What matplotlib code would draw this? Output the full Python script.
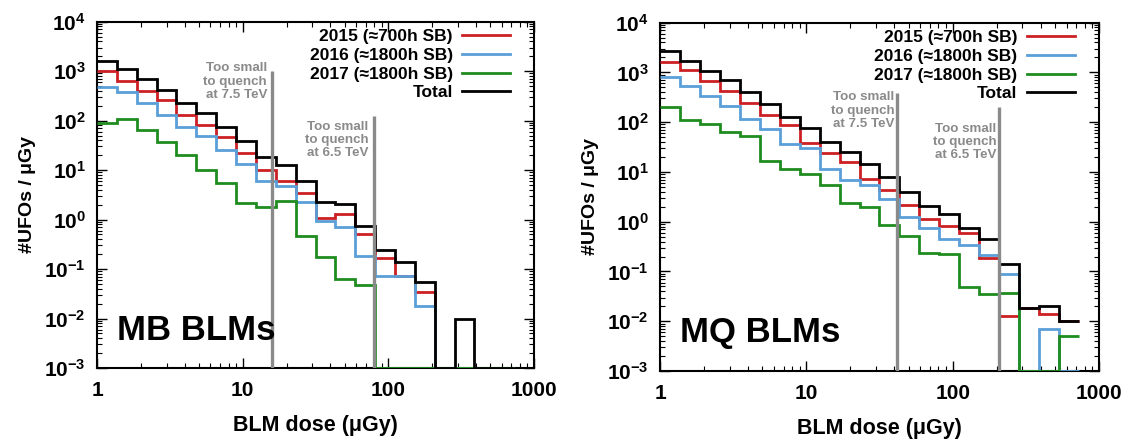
import numpy as np
import matplotlib
matplotlib.use('Agg')
import matplotlib.pyplot as plt
from matplotlib.ticker import FuncFormatter, LogLocator, NullFormatter

plt.rcParams['font.family'] = ['Liberation Sans', 'DejaVu Sans']
plt.rcParams['font.weight'] = 'bold'
plt.rcParams['mathtext.fontset'] = 'custom'
plt.rcParams['mathtext.rm'] = 'Liberation Sans:bold'
plt.rcParams['mathtext.bf'] = 'Liberation Sans:bold'

# 21 logarithmic dose bins from 1 to ~730 uGy
bin_edges = [1, 1.369, 1.874, 2.565, 3.511, 4.806, 6.579, 9.006, 12.33, 16.88, 23.10,
             31.62, 43.29, 59.26, 81.11, 111.0, 152.0, 208.1, 284.8, 389.9, 533.8, 730.7]

labels = ['2015 (≈700h SB)', '2016 (≈1800h SB)', '2017 (≈1800h SB)', 'Total']
colors = ['#cc1f24', '#5a9fd8', '#1f8c1f', 'black']

# MB BLMs (#UFOs / uGy), 0 = empty bin
mb_2015 = [1020, 632, 397, 262, 130, 80, 46, 22.5, 10.0, 5.9, 3.4, 1.1, 1.28, 0.51,
           0.168, 0.071, 0.035, 0, 0, 0, 0]
mb_2016 = [486, 370, 228, 128, 76, 48, 26, 13, 6.0, 4.7, 2.25, 0.94, 0.70, 0.185,
           0.071, 0.071, 0.018, 0, 0, 0, 0]
mb_2017 = [88, 106, 65, 37, 20.5, 10, 5.5, 2.2, 1.82, 2.39, 0.47, 0.175, 0.063, 0.047,
           0, 0, 0, 0, 0, 0, 0]
mb_total = [1600, 1100, 680, 416, 230, 140, 75, 38, 18.5, 12.8, 5.9, 2.25, 2.05, 0.73,
            0.245, 0.142, 0.054, 0, 0.0098, 0, 0]

# MQ BLMs
mq_2015 = [1650, 1100, 673, 430, 245, 140, 86, 38.7, 24, 15.8, 7.1, 4.3, 2.17, 1.12,
           0.81, 0.58, 0.19, 0.0127, 0.0187, 0.0138, 0.0099]
mq_2016 = [809, 533, 341, 211, 118, 72, 37, 29.7, 11.7, 6.9, 5.5, 2.82, 1.22, 0.74,
           0.44, 0.34, 0.214, 0.089, 0, 0.0069, 0]
mq_2017 = [202, 111, 92, 63.5, 52.7, 16.6, 11.3, 9.1, 5.5, 2.4, 1.97, 0.84, 0.52, 0.235,
           0.222, 0.048, 0.036, 0.0375, 0, 0, 0.0051]
mq_total = [2700, 1722, 1080, 700, 405, 230, 130, 77, 40.6, 24.8, 14.7, 7.9, 3.9, 2.07,
            1.42, 0.76, 0.44, 0.141, 0.0187, 0.0205, 0.0099]

# quench thresholds: (dose, top of line)
mb_limits = [(16, 1020), (80, 124)]
mq_limits = [(41.5, 392), (208, 199)]

YMIN, YMAX = 1e-3, 1e4
GREY = '#8a8a8a'

fig = plt.figure(figsize=(11.36, 4.41), dpi=100)

panels = [
    dict(rect=[0.0854, 0.1655, 0.3847, 0.7854], series=[mb_2015, mb_2016, mb_2017, mb_total],
         limits=mb_limits, name='MB BLMs',
         notes=[(14.7, 1500), (73.2, 100)]),
    dict(rect=[0.5810, 0.1587, 0.3864, 0.7899], series=[mq_2015, mq_2016, mq_2017, mq_total],
         limits=mq_limits, name='MQ BLMs',
         notes=[(40.0, 415), (200, 98)]),
]

for p in panels:
    ax = fig.add_axes(p['rect'])
    for vals, lab, col in zip(p['series'], labels, colors):
        v = np.array(vals, dtype=float)
        v = np.where(v > 0, v, YMIN)
        ax.stairs(v, bin_edges, baseline=None, color=col, lw=2.0, label=lab, zorder=3)

    for (xl, top), (xt, yt), tev in zip(p['limits'], p['notes'], ['7.5', '6.5']):
        ax.vlines(xl, YMIN, top, color=GREY, lw=2.4, zorder=4)
        ax.text(xt, yt, 'Too small\nto quench\nat %s TeV' % tev, ha='right', va='top',
                color=GREY, fontsize=9.6, linespacing=1.15, zorder=5)

    ax.set_xscale('log')
    ax.set_yscale('log')
    ax.set_xlim(1, 1000)
    ax.set_ylim(YMIN, YMAX)

    ax.xaxis.set_major_locator(LogLocator(base=10, numticks=10))
    ax.yaxis.set_major_locator(LogLocator(base=10, numticks=10))
    ax.xaxis.set_minor_locator(LogLocator(base=10, subs=np.arange(2, 10), numticks=20))
    ax.yaxis.set_minor_locator(LogLocator(base=10, subs=np.arange(2, 10), numticks=20))
    ax.xaxis.set_minor_formatter(NullFormatter())
    ax.yaxis.set_minor_formatter(NullFormatter())
    ax.xaxis.set_major_formatter(FuncFormatter(lambda v, pos: '%d' % round(v)))
    ax.yaxis.set_major_formatter(FuncFormatter(
        lambda v, pos: r'$\mathbf{10^{%d}}$' % round(np.log10(v))))

    ax.tick_params(which='both', direction='in', top=True, right=True, labelsize=15)
    ax.tick_params(which='major', length=7, width=1.0)
    ax.tick_params(which='minor', length=3.5, width=0.8)
    ax.tick_params(axis='x', pad=9)
    ax.tick_params(axis='y', pad=8)
    for s in ax.spines.values():
        s.set_linewidth(1.5)

    ax.set_xlabel('BLM dose (μGy)', fontsize=15.5, fontweight='bold', labelpad=11)
    ax.set_ylabel('#UFOs / μGy', fontsize=14, fontweight='bold', labelpad=6)

    ax.text(0.046, 0.082, p['name'], transform=ax.transAxes, fontsize=25,
            fontweight='bold', va='baseline', ha='left', zorder=6)

    ax.legend(loc='upper right', bbox_to_anchor=(0.945, 0.978), frameon=False,
              markerfirst=False, fontsize=12.5, handlelength=2.75, handletextpad=0.55,
              labelspacing=0.2, borderaxespad=0, borderpad=0)

fig.savefig('out.png', dpi=100)
